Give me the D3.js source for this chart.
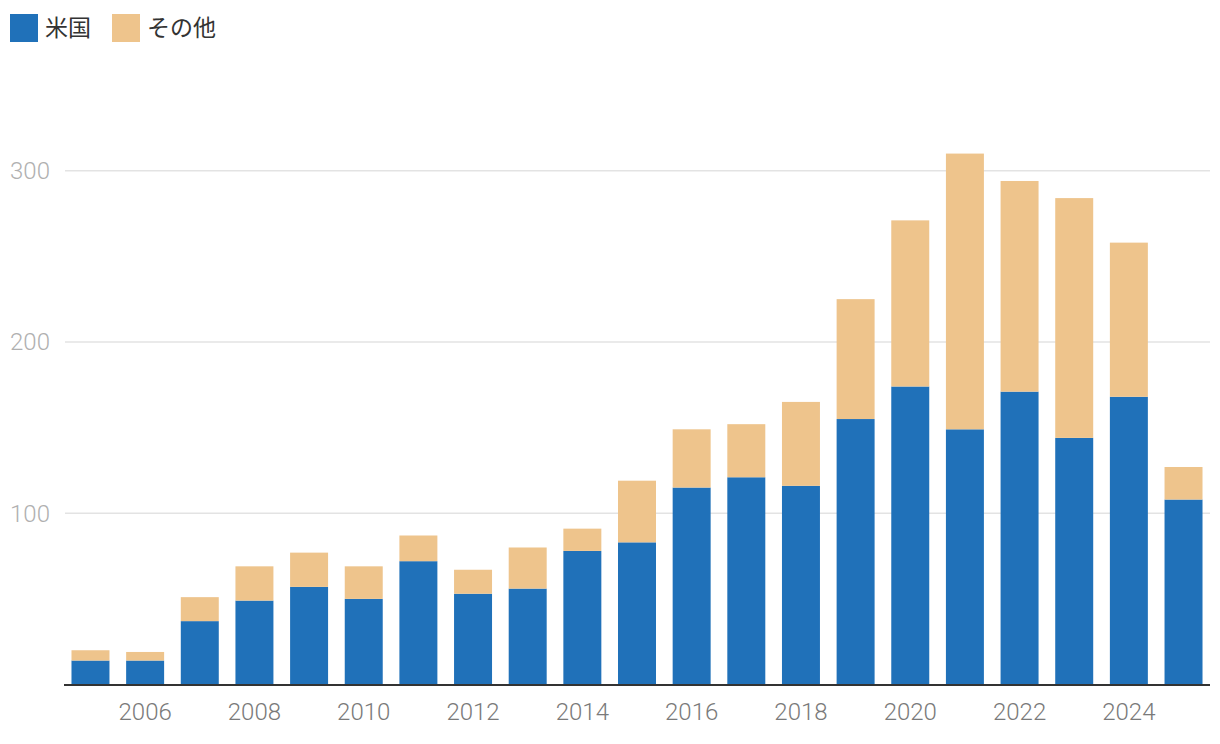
<!DOCTYPE html>
<html><head><meta charset="utf-8">
<script src="https://cdn.jsdelivr.net/npm/d3@7"></script>
<style>
body{margin:0;background:#fff;}
svg{display:block;font-family:"Noto Sans CJK JP","Noto Sans",sans-serif;}
</style></head><body>
<svg id="c" width="1220" height="744"></svg>
<script>
const years = [2005,2006,2007,2008,2009,2010,2011,2012,2013,2014,2015,2016,2017,2018,2019,2020,2021,2022,2023,2024,2025];
const usValues = [14,14,37,49,57,50,72,53,56,78,83,115,121,116,155,174,149,171,144,168,108];
const totalValues = [20,19,51,69,77,69,87,67,80,91,119,149,152,165,225,271,310,294,284,258,127];
const otherValues = totalValues.map((t,i)=>t-usValues[i]);
const seriesNames = ["米国","その他"];
const colors = ["#2071b9","#eec48c"];
const yTicks = [100,200,300];
const xTickYears = [2006,2008,2010,2012,2014,2016,2018,2020,2022,2024];

const svg = d3.select("#c");
const x = d3.scaleBand().domain(years).range([64,1210]).paddingInner(0.305).paddingOuter(0.137);
const y = d3.scaleLinear().domain([0,300]).range([684.5,170.7]);
const numFont = "Roboto, 'Liberation Sans', sans-serif";

// gridlines
svg.append("g").selectAll("line").data(yTicks).join("line")
  .attr("x1",65).attr("x2",1210)
  .attr("y1",d=>y(d)).attr("y2",d=>y(d))
  .attr("stroke","#e3e3e3").attr("stroke-width",1.5);
svg.append("g").selectAll("text").data(yTicks).join("text")
  .attr("x",10).attr("y",d=>y(d)+8.5)
  .attr("font-family",numFont).attr("font-size",24).attr("font-weight",300).attr("fill","#b0b0b0")
  .text(d=>d);

const data = years.map((yr,i)=>({year:yr, "米国":usValues[i], "その他":otherValues[i]}));
const stack = d3.stack().keys(seriesNames)(data);
svg.append("g").selectAll("g").data(stack).join("g")
  .attr("fill",(d,i)=>colors[i])
  .selectAll("rect").data(d=>d).join("rect")
  .attr("x",d=>x(d.data.year)).attr("width",x.bandwidth())
  .attr("y",d=>y(d[1])).attr("height",d=>y(d[0])-y(d[1]));

// baseline
svg.append("line").attr("x1",64).attr("x2",1210).attr("y1",y(0)+0.5).attr("y2",y(0)+0.5)
  .attr("stroke","#333").attr("stroke-width",2);

// x labels
svg.append("g").selectAll("text").data(xTickYears).join("text")
  .attr("x",d=>x(d)+x.bandwidth()/2).attr("y",719.5)
  .attr("text-anchor","middle").attr("font-family",numFont).attr("font-size",24).attr("font-weight",300).attr("fill","#7a7a7a")
  .text(d=>d);

// legend
const leg = svg.append("g");
const legX = [10,112];
seriesNames.forEach((n,i)=>{
  leg.append("rect").attr("x",legX[i]).attr("y",14).attr("width",28).attr("height",28).attr("fill",colors[i]);
  leg.append("text").attr("x",legX[i]+35).attr("y",28).attr("dy","0.36em")
    .attr("font-size",23).attr("fill","#333").text(n);
});
</script>
</body></html>
